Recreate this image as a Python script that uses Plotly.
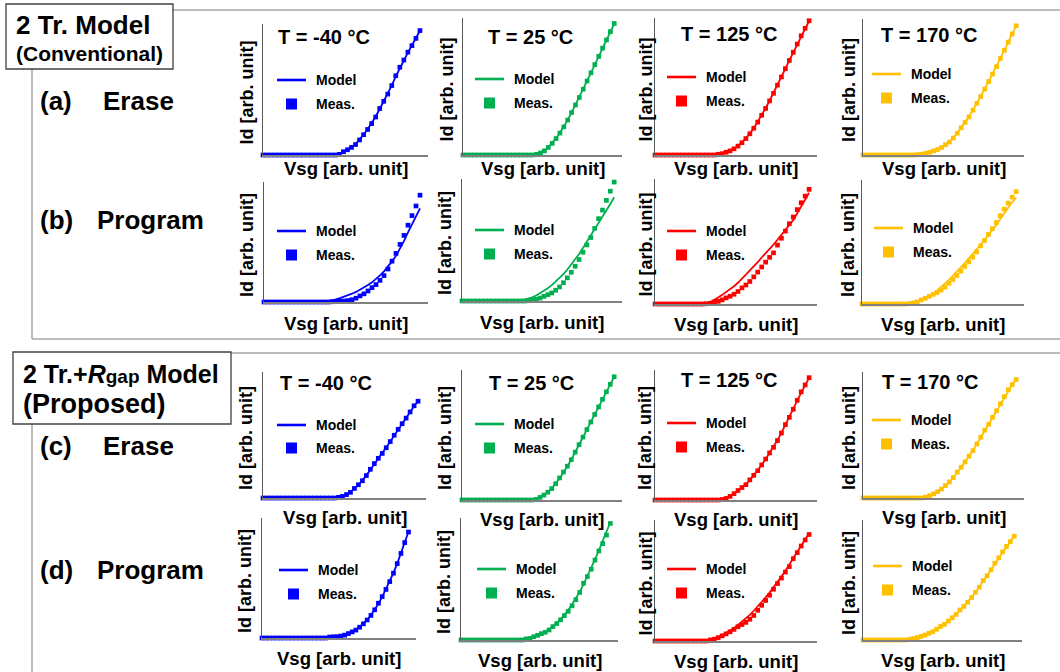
import plotly.graph_objects as go

W, H = 1060, 672
FONT = "Arial, 'Liberation Sans', Helvetica, sans-serif"

# ---------------- data ----------------
VSG = [0, 1, 2, 3, 4, 5, 6, 7, 8, 9, 10, 11, 12, 13, 14, 15, 16, 17, 18, 19,
       20, 21, 22, 23, 24, 25, 26, 27, 28, 29, 30, 31, 32, 33, 34, 35, 36, 37, 38, 39]

TEMPS = ["-40", "25", "125", "170"]
COLORS = ["#0000FF", "#00B050", "#FF0000", "#FFC000"]
ROW_TAGS = ["(a)", "(b)", "(c)", "(d)"]
ROW_MODES = ["Erase", "Program", "Erase", "Program"]
X_TITLE = "Vsg [arb. unit]"
Y_TITLE = "Id [arb. unit]"
LEG_MODEL = "Model"
LEG_MEAS = "Meas."

# (a) Erase, 2 Tr. model (conventional)
MEAS_A_M40 = [0, 0, 0, 0, 0, 0, 0, 0, 0, 0, 0, 0, 0, 0, 0, 0, 0, 0, 0, 0.5,
              2.5, 4, 5.8, 8, 11.5, 15.5, 19.5, 24, 29, 35.5, 41, 46.5, 53, 60.5, 67, 72.5, 78.5, 83.5, 89, 95]
MODEL_A_M40 = [0, 0, 0, 0, 0, 0, 0, 0, 0, 0, 0, 0, 0, 0, 0, 0, 0, 0, 0.2, 0.9,
               2.4, 4.1, 6, 8.4, 11.7, 15.5, 19.6, 24.3, 29.4, 35.1, 40.9, 46.8, 53.1, 60, 66.5, 72.4, 78.2, 83.7, 89.2, 94.8]
MEAS_A_25 = [0, 0, 0, 0, 0, 0, 0, 0, 0, 0, 0, 0, 0, 0, 0, 0, 0, 0, 0, 0.5,
             1.5, 3, 5.5, 8.5, 12, 16, 20.5, 25.5, 31, 36.5, 42, 48, 54, 60, 66, 72, 78, 84, 90, 96]
MODEL_A_25 = [0, 0, 0, 0, 0, 0, 0, 0, 0, 0, 0, 0, 0, 0, 0, 0, 0, 0, 0.2, 0.7,
              1.8, 3.3, 5.6, 8.6, 12.2, 16.2, 20.6, 25.6, 31, 36.6, 42.2, 48, 54, 60, 66, 72, 78, 84, 90, 95.8]
MEAS_A_125 = [0, 0, 0, 0, 0, 0, 0, 0, 0, 0, 0, 0, 0, 0, 0, 0, 0.5, 1, 2, 3,
              4.5, 6.5, 9, 12, 15.5, 19.5, 24, 29, 34, 39.5, 45, 51, 57, 63, 69, 75, 81, 87, 92.5, 98]
MODEL_A_125 = [0, 0, 0, 0, 0, 0, 0, 0, 0, 0, 0, 0, 0, 0, 0, 0.2, 0.6, 1.1, 2, 3.1,
               4.6, 6.6, 9.1, 12.1, 15.6, 19.6, 24.1, 29, 34.1, 39.6, 45.2, 51, 57, 63, 69, 75, 81, 86.8, 92.4, 97.8]
MEAS_A_170 = [0, 0, 0, 0, 0, 0, 0, 0, 0, 0, 0, 0, 0, 0, 0.3, 0.6, 1.2, 2, 3, 4,
              5.5, 7.5, 9.5, 12.5, 16, 20, 24, 28, 33, 38, 43, 48.5, 54, 59.5, 65, 71, 77, 83, 89, 95]
MODEL_A_170 = [0, 0, 0, 0, 0, 0, 0, 0, 0, 0, 0, 0, 0, 0.2, 0.4, 0.8, 1.3, 2.1, 3.1, 4.2,
               5.7, 7.6, 9.8, 12.6, 16.1, 20, 24, 28.3, 33.1, 38, 43, 48.5, 54, 59.6, 65.2, 71, 77, 83, 89, 94.8]

# (b) Program, 2 Tr. model (conventional)
MEAS_B_M40 = [0, 0, 0, 0, 0, 0, 0, 0, 0, 0, 0, 0, 0, 0, 0, 0, 0, 0.2, 0.4, 0.6,
              0.8, 1.2, 1.9, 3.2, 5.1, 6.8, 9.2, 12, 14.5, 18, 22, 27.5, 34, 40.5, 48, 55.5, 64, 72, 80, 89]
MODEL_B_M40 = [0, 0, 0, 0, 0, 0, 0, 0, 0, 0, 0, 0, 0, 0, 0, 0.3, 0.7, 1.3, 2.2, 3.3,
               4.4, 5.6, 6.9, 8.4, 10.1, 12, 14.1, 16.4, 19.1, 22.2, 25.6, 29.5, 33.8, 38.5, 44.5, 51, 58, 65, 71.5, 78]
MEAS_B_25 = [0, 0, 0, 0, 0, 0, 0, 0, 0, 0, 0, 0, 0, 0, 0, 0, 0, 0.2, 0.8, 1.4,
             2.4, 3.8, 5.2, 6.6, 8.8, 11.5, 15, 19, 23.5, 28.5, 34, 40, 46, 52, 59.5, 67.5, 74.5, 82.5, 90, 97.5]
MODEL_B_25 = [0, 0, 0, 0, 0, 0, 0, 0, 0, 0, 0, 0, 0, 0, 0.2, 0.6, 1.2, 2, 3, 4.5,
              6.3, 8.4, 10.5, 13, 15.8, 18.7, 22, 25.8, 29.8, 34, 38.5, 43.5, 48.5, 53.5, 58.5, 63.5, 69, 74, 79.5, 85]
MEAS_B_125 = [0, 0, 0, 0, 0, 0, 0, 0, 0, 0, 0, 0, 0, 0.2, 0.6, 1.5, 2.1, 3.3, 4.9, 6.2,
              7.8, 10, 12.9, 15.2, 18, 21.7, 25.5, 29.6, 33.5, 37.3, 40.9, 47.1, 52.6, 58.3, 64.2, 69.6, 75.5, 81, 86.3, 91.7]
MODEL_B_125 = [0, 0, 0, 0, 0, 0, 0, 0, 0, 0, 0, 0, 0, 0.3, 1.5, 3.2, 5.2, 7.3, 9.4, 11.5,
               14.2, 17, 20.2, 23.5, 26.3, 29.8, 33.5, 37.2, 40.5, 43.8, 47.5, 51.4, 55.2, 59, 62.7, 67.3, 72.6, 78.2, 84, 89]
MEAS_B_170 = [0, 0, 0, 0, 0, 0, 0, 0, 0, 0, 0, 0, 0.4, 0.9, 1.6, 3.3, 4.6, 6.2, 7.7, 9.2,
              11.2, 13.6, 16.7, 19.8, 23, 26.5, 30.3, 34, 37.8, 42, 46.8, 51.2, 56.1, 60.7, 65.7, 71.2, 76.5, 81.4, 86.2, 90.6]
MODEL_B_170 = [0, 0, 0, 0, 0, 0, 0, 0, 0, 0, 0, 0, 0.7, 1.5, 2.5, 3.4, 4.9, 6.5, 8.4, 11,
               13.5, 16.5, 19.5, 22.6, 26, 29.6, 33, 36.5, 40.2, 44, 47.8, 51.7, 55.6, 59.6, 63.8, 68.6, 73.2, 77.7, 82, 85.8]

# (c) Erase, 2 Tr.+Rgap model (proposed)
MEAS_C_M40 = [0, 0, 0, 0, 0, 0, 0, 0, 0, 0, 0, 0, 0, 0, 0, 0, 0, 0, 0, 0.5,
              1.3, 2.7, 4.5, 7.6, 10.5, 13.7, 17.8, 22.8, 27.3, 31.5, 35.4, 39.9, 44.8, 49.8, 54.5, 59, 63.4, 68.3, 73.2, 76.8]
MODEL_C_M40 = [0, 0, 0, 0, 0, 0, 0, 0, 0, 0, 0, 0, 0, 0, 0, 0, 0, 0, 0.1, 0.6,
               1.5, 2.9, 4.8, 7.4, 10.4, 13.8, 17.7, 22.3, 27, 31.3, 35.5, 40, 44.7, 49.5, 54.3, 59, 63.6, 68.3, 72.8, 77]
MEAS_C_25 = [0, 0, 0, 0, 0, 0, 0, 0, 0, 0, 0, 0, 0, 0, 0, 0, 0, 0, 0, 0.5,
             2, 3.8, 6, 8.8, 12.5, 17, 21.5, 26, 31, 36.8, 42.6, 48.4, 54.2, 60, 65.8, 71.6, 77.4, 83.2, 89, 94.8]
MODEL_C_25 = [0, 0, 0, 0, 0, 0, 0, 0, 0, 0, 0, 0, 0, 0, 0, 0, 0, 0, 0, 0.4,
              1.9, 3.8, 6.1, 8.9, 12.4, 16.6, 21.1, 25.9, 31, 36.7, 42.5, 48.3, 54.1, 59.9, 65.7, 71.5, 77.3, 83.1, 88.9, 94.7]
MEAS_C_125 = [0, 0, 0, 0, 0, 0, 0, 0, 0, 0, 0, 0, 0, 0, 0, 0, 0, 0.4, 1.2, 2.8,
              4.9, 7.3, 9.6, 11.8, 15.5, 19, 22.5, 27, 31.5, 36.2, 40.5, 45.7, 51.5, 58, 63.6, 69.8, 76.7, 83.2, 88.5, 94.1]
MODEL_C_125 = [0, 0, 0, 0, 0, 0, 0, 0, 0, 0, 0, 0, 0, 0, 0, 0, 0, 0.5, 1.4, 2.9,
               4.8, 7, 9.4, 12.1, 15.3, 18.9, 22.7, 26.9, 31.4, 36, 40.9, 46.1, 51.7, 57.6, 63.7, 70, 76.4, 82.6, 88.4, 94]
MEAS_C_170 = [0, 0, 0, 0, 0, 0, 0, 0, 0, 0, 0, 0, 0, 0, 0, 0, 0.8, 1.9, 3.3, 5,
              7.1, 9.9, 12.8, 16.2, 20.5, 24.4, 28.6, 33.2, 37.6, 42.9, 48.3, 53.9, 58.5, 64, 69.2, 74.8, 80.5, 85.9, 90, 94]
MODEL_C_170 = [0, 0, 0, 0, 0, 0, 0, 0, 0, 0, 0, 0, 0, 0, 0, 0, 0.9, 2, 3.4, 5.1,
               7.2, 9.8, 12.8, 16.3, 20.2, 24.3, 28.6, 33.1, 37.8, 42.8, 48, 53.3, 58.6, 64, 69.3, 74.7, 80, 85.2, 89.8, 94]

# (d) Program, 2 Tr.+Rgap model (proposed)
MEAS_D_M40 = [0, 0, 0, 0, 0, 0, 0, 0, 0, 0, 0, 0, 0, 0, 0, 0, 0, 0, 0.8, 1,
              1.1, 1.6, 2.4, 3.7, 5.1, 6.6, 9, 11.8, 15, 18.8, 23.5, 29, 34.5, 40.5, 47, 54, 62, 70.5, 79.5, 88.3]
MODEL_D_M40 = [0, 0, 0, 0, 0, 0, 0, 0, 0, 0, 0, 0, 0, 0, 0, 0, 0, 0.3, 0.6, 0.9,
               1.3, 1.8, 2.6, 3.7, 5.2, 7, 9.3, 12, 15.2, 19, 23.5, 28.6, 34.3, 40.5, 47.2, 54.3, 62, 70.3, 79.2, 88.5]
MEAS_D_25 = [0, 0, 0, 0, 0, 0, 0, 0, 0, 0, 0, 0, 0, 0, 0, 0, 0, 0.9, 1.3, 2.7,
             3.8, 5.2, 6.3, 8.2, 11, 13.5, 16.5, 20, 23.5, 28, 33, 39, 46.5, 52, 58, 65.5, 73, 79, 86, 95.5]
MODEL_D_25 = [0, 0, 0, 0, 0, 0, 0, 0, 0, 0, 0, 0, 0, 0, 0, 0, 0.3, 0.8, 1.5, 2.5,
              3.7, 5.1, 6.8, 8.8, 11.2, 13.9, 17, 20.5, 24.5, 29, 34, 39.6, 45.6, 52, 58.8, 66, 73.5, 81, 88.7, 96.5]
MEAS_D_125 = [0, 0, 0, 0, 0, 0, 0, 0, 0, 0, 0, 0, 0, 0, 0.9, 1.5, 2.8, 4.3, 5.9, 7.6,
              9.6, 11.8, 13.6, 15.4, 18, 21.1, 25.4, 29.5, 33.5, 37.8, 42.8, 47.5, 52, 57, 61.5, 68, 73, 78.5, 83.5, 88]
MODEL_D_125 = [0, 0, 0, 0, 0, 0, 0, 0, 0, 0, 0, 0, 0, 0, 0.8, 1.8, 3.2, 4.8, 6.6, 8.6,
               10.8, 13.2, 15.8, 18.6, 21.6, 25, 28.5, 32.2, 36, 40, 44.2, 48.6, 53.2, 58, 63, 68, 73.2, 78.5, 84, 89]
MEAS_D_170 = [0, 0, 0, 0, 0, 0, 0, 0, 0, 0, 0, 0, 0.6, 1.2, 2, 3, 4.1, 5.6, 6.9, 9,
              11.3, 13, 15.8, 18.5, 21.3, 25, 28, 31.5, 35.5, 39.7, 44, 49.5, 53.5, 58.5, 64, 68.5, 73.5, 78, 82, 86.5]
MODEL_D_170 = [0, 0, 0, 0, 0, 0, 0, 0, 0, 0, 0, 0, 0.5, 1.1, 1.9, 2.9, 4.1, 5.5, 7.1, 8.9,
               10.9, 13.1, 15.6, 18.3, 21.3, 24.5, 28, 31.7, 35.6, 39.8, 44.2, 48.8, 53.5, 58.3, 63.2, 68.1, 73, 77.8, 82.4, 87]

MEAS = [[MEAS_A_M40, MEAS_A_25, MEAS_A_125, MEAS_A_170],
        [MEAS_B_M40, MEAS_B_25, MEAS_B_125, MEAS_B_170],
        [MEAS_C_M40, MEAS_C_25, MEAS_C_125, MEAS_C_170],
        [MEAS_D_M40, MEAS_D_25, MEAS_D_125, MEAS_D_170]]
MODEL = [[MODEL_A_M40, MODEL_A_25, MODEL_A_125, MODEL_A_170],
         [MODEL_B_M40, MODEL_B_25, MODEL_B_125, MODEL_B_170],
         [MODEL_C_M40, MODEL_C_25, MODEL_C_125, MODEL_C_170],
         [MODEL_D_M40, MODEL_D_25, MODEL_D_125, MODEL_D_170]]

# ---------------- layout geometry (pixels) ----------------
# (axis left, axis right, axis top, axis bottom)
PANEL_BOX = [
    [(263, 428, 24, 155), (463, 622, 18, 155), (655, 817, 18, 155), (863, 1024, 19, 155)],
    [(264, 428, 182, 302), (462, 622, 179, 301), (655, 817, 179, 304), (862, 1024, 180, 304)],
    [(263, 426, 372, 498), (462, 622, 370, 500), (655, 817, 370, 500), (863, 1024, 372, 498)],
    [(262, 416, 518, 638), (461, 618, 518, 640), (655, 817, 520, 641), (863, 1022, 520, 640)],
]
# legend: (line start x, model row y, meas row y)
LEGEND_POS = [
    [(277, 80, 104), (475, 79, 103), (667, 77, 101), (872, 74, 98)],
    [(277, 231, 255), (475, 230, 254), (667, 231, 255), (874, 228, 252)],
    [(277, 425, 448), (475, 424, 448), (667, 423, 447), (872, 420, 444)],
    [(279, 570, 594), (477, 569, 593), (667, 569, 593), (873, 566, 590)],
]
# temperature label: row index -> list of (left x, center y)
TEMP_POS = {0: [(276, 37), (486, 37), (679, 34), (879, 35)],
            2: [(278, 383), (487, 383), (679, 380), (880, 382)]}
YTITLE_OFF = [-17, -17, -10, -14]
XTITLE_OFF = [13, 21, 19, 20]
ROW_LABEL_Y = [101, 220, 446, 570]
ROW_MODE_X = [101, 95, 101, 95]


def px(x):
    return x / W


def py(y):
    return 1 - y / H


fig = go.Figure()
layout = dict(
    width=W, height=H, margin=dict(l=0, r=0, t=0, b=0),
    paper_bgcolor="white", plot_bgcolor="white", showlegend=False,
    font=dict(family=FONT, color="black"),
)
annotations = []
shapes = []

for r in range(4):
    for c in range(4):
        k = r * 4 + c + 1
        sfx = "" if k == 1 else str(k)
        L, R, T, B = PANEL_BOX[r][c]
        col = COLORS[c]
        fig.add_trace(go.Scatter(
            x=VSG, y=MODEL[r][c], mode="lines", line=dict(color=col, width=1.8),
            xaxis="x" + sfx, yaxis="y" + sfx, cliponaxis=False, hoverinfo="skip"))
        fig.add_trace(go.Scatter(
            x=VSG, y=MEAS[r][c], mode="markers",
            marker=dict(symbol="square", size=4.7, color=col, line=dict(width=0)),
            xaxis="x" + sfx, yaxis="y" + sfx, cliponaxis=False, hoverinfo="skip"))
        layout["xaxis" + sfx] = dict(
            domain=[px(L), px(R)], range=[0, 41], anchor="y" + sfx,
            showline=True, linecolor="#808080", linewidth=1.5, mirror=False,
            showgrid=False, zeroline=False, ticks="", showticklabels=False, fixedrange=True)
        layout["yaxis" + sfx] = dict(
            domain=[py(B), py(T)], range=[0, 100], anchor="x" + sfx,
            showline=True, linecolor="#595959", linewidth=1.5, mirror=False,
            showgrid=False, zeroline=False, ticks="", showticklabels=False, fixedrange=True)

        # axis titles
        annotations.append(dict(
            x=px((L + R) / 2), y=py(B + XTITLE_OFF[r]), xref="paper", yref="paper",
            text="<b>" + X_TITLE + "</b>", showarrow=False, xanchor="center", yanchor="middle",
            font=dict(size=18.5, family=FONT, color="black"), borderpad=0))
        annotations.append(dict(
            x=px(L + YTITLE_OFF[c]), y=py((T + B) / 2 + 3), xref="paper", yref="paper",
            text="<b>" + Y_TITLE + "</b>", showarrow=False, textangle=-90,
            xanchor="center", yanchor="middle",
            font=dict(size=18, family=FONT, color="black")))

        # in-panel legend
        lx, ly1, ly2 = LEGEND_POS[r][c]
        shapes.append(dict(type="line", xref="paper", yref="paper",
                           x0=px(lx), x1=px(lx + 29), y0=py(ly1), y1=py(ly1),
                           line=dict(color=col, width=2.6)))
        shapes.append(dict(type="rect", xref="paper", yref="paper",
                           x0=px(lx + 9), x1=px(lx + 20), y0=py(ly2 - 5.5), y1=py(ly2 + 5.5),
                           line=dict(width=0), fillcolor=col))
        annotations.append(dict(
            x=px(lx + 37), y=py(ly1), xref="paper", yref="paper",
            text="<b>" + LEG_MODEL + "</b>", showarrow=False, xanchor="left", yanchor="middle",
            font=dict(size=14, family=FONT, color="black")))
        annotations.append(dict(
            x=px(lx + 37), y=py(ly2), xref="paper", yref="paper",
            text="<b>" + LEG_MEAS + "</b>", showarrow=False, xanchor="left", yanchor="middle",
            font=dict(size=14, family=FONT, color="black")))

        # temperature labels
        if r in TEMP_POS:
            tx, ty = TEMP_POS[r][c]
            annotations.append(dict(
                x=px(tx), y=py(ty), xref="paper", yref="paper",
                text="<b>T = " + TEMPS[c] + " °C</b>", showarrow=False,
                xanchor="left", yanchor="middle",
                font=dict(size=20, family=FONT, color="black")))

# row labels
for r in range(4):
    annotations.append(dict(
        x=px(38), y=py(ROW_LABEL_Y[r]), xref="paper", yref="paper",
        text="<b>" + ROW_TAGS[r] + "</b>", showarrow=False, xanchor="left", yanchor="middle",
        font=dict(size=26, family=FONT, color="black")))
    annotations.append(dict(
        x=px(ROW_MODE_X[r]), y=py(ROW_LABEL_Y[r]), xref="paper", yref="paper",
        text="<b>" + ROW_MODES[r] + "</b>", showarrow=False, xanchor="left", yanchor="middle",
        font=dict(size=26, family=FONT, color="black")))

# section frames
FRAME = "#A6A6A6"
for (x0, y0, x1, y1) in [(173, 10, 1060, 10), (32, 69, 32, 339), (32, 339, 1060, 339),
                         (231, 353, 1060, 353), (32, 424, 32, 672)]:
    shapes.append(dict(type="line", xref="paper", yref="paper",
                       x0=px(x0), x1=px(x1), y0=py(y0), y1=py(y1),
                       line=dict(color=FRAME, width=1.5)))

# title boxes
shapes.append(dict(type="rect", xref="paper", yref="paper",
                   x0=px(6), x1=px(173), y0=py(69), y1=py(4),
                   line=dict(color="#404040", width=1.3), fillcolor="white"))
shapes.append(dict(type="rect", xref="paper", yref="paper",
                   x0=px(13), x1=px(231), y0=py(424), y1=py(352),
                   line=dict(color="#404040", width=1.3), fillcolor="white"))

annotations.append(dict(
    x=px(14), y=py(25), xref="paper", yref="paper",
    text="<b>2 Tr. Model</b>", showarrow=False, xanchor="left", yanchor="middle",
    font=dict(size=26, family=FONT, color="black")))
annotations.append(dict(
    x=px(14), y=py(53), xref="paper", yref="paper",
    text="<b>(Conventional)</b>", showarrow=False, xanchor="left", yanchor="middle",
    font=dict(size=21, family=FONT, color="black")))
annotations.append(dict(
    x=px(21), y=py(374), xref="paper", yref="paper",
    text="<b>2 Tr.+<i>R</i><span style='font-size:19px'>gap</span> Model</b>",
    showarrow=False, xanchor="left", yanchor="middle",
    font=dict(size=25, family=FONT, color="black")))
annotations.append(dict(
    x=px(21), y=py(404), xref="paper", yref="paper",
    text="<b>(Proposed)</b>", showarrow=False, xanchor="left", yanchor="middle",
    font=dict(size=27, family=FONT, color="black")))

layout["annotations"] = annotations
layout["shapes"] = shapes
fig.update_layout(**layout)
fig.write_html(
    "out.html",
    config={"displayModeBar": False, "staticPlot": True},
    post_script="document.body.style.margin='0px';document.body.style.padding='0px';"
                "document.body.style.overflow='hidden';",
)
